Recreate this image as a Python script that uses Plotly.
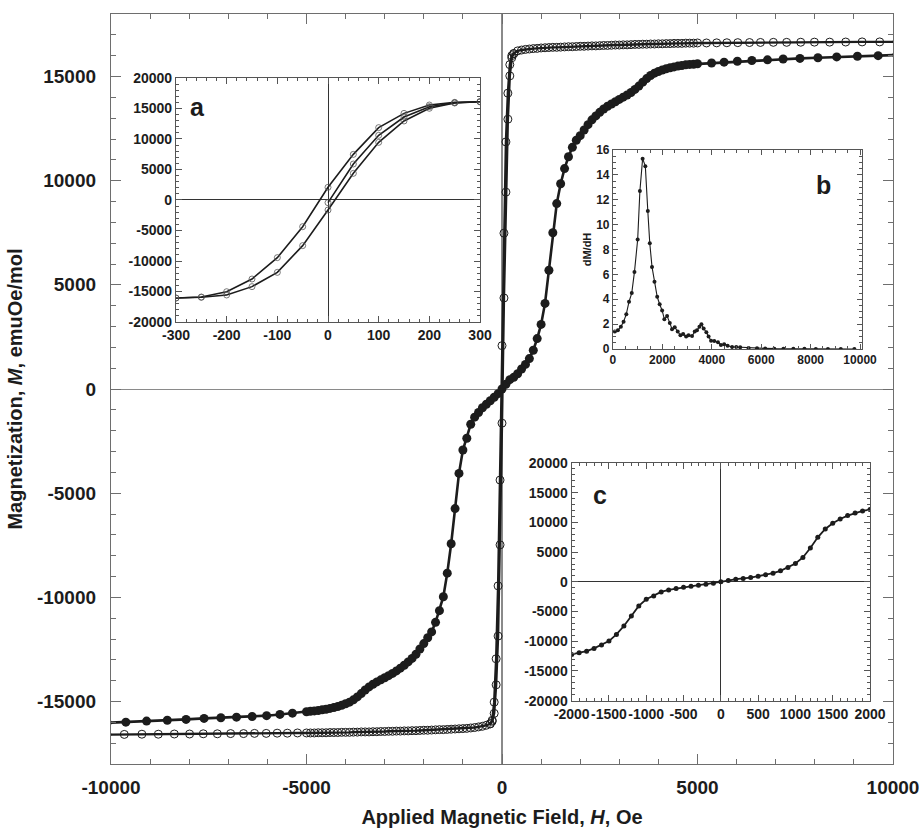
import plotly.graph_objects as go

# ---------------- data ----------------
# Main loop, open circles (sharp switching sample)
OPEN_H_NEG_SPARSE = [-10100, -9660, -9210, -8790, -8380, -7990, -7640, -7280, -6940,
                     -6610, -6330, -6030, -5750, -5490, -5230]
OPEN_M_NEG_SPARSE = [-16590, -16580, -16570, -16570, -16560, -16560, -16550, -16550, -16540,
                     -16540, -16530, -16530, -16520, -16520, -16510]
OPEN_H_POS_SPARSE = [5230, 5490, 5750, 6030, 6330, 6610, 6940, 7280, 7640, 7990,
                     8380, 8790, 9210, 9660, 10100]
OPEN_M_POS_SPARSE = [16610, 16615, 16620, 16625, 16630, 16635, 16640, 16640, 16645, 16650,
                     16650, 16655, 16660, 16660, 16665]

OPEN_H_DENSE = [400, 500, 600, 700, 800, 900,
                1000, 1100, 1200, 1300, 1400, 1500, 1600, 1700, 1800, 1900,
                2000, 2100, 2200, 2300, 2400, 2500, 2600, 2700, 2800, 2900,
                3000, 3100, 3200, 3300, 3400, 3500, 3600, 3700, 3800, 3900,
                4000, 4100, 4200, 4300, 4400, 4500, 4600, 4700, 4800, 4900, 5000]
OPEN_M_DENSE_POS = [16230, 16270, 16300, 16320, 16340, 16350,
                    16370, 16380, 16390, 16400, 16400, 16410, 16420, 16430, 16430, 16440,
                    16450, 16450, 16460, 16470, 16470, 16480, 16490, 16490, 16500, 16510,
                    16510, 16520, 16520, 16530, 16540, 16540, 16550, 16550, 16560, 16560,
                    16570, 16570, 16580, 16580, 16590, 16590, 16590, 16600, 16600, 16600, 16610]
OPEN_M_DENSE_NEG = [-16140, -16190, -16220, -16250, -16270, -16290,
                    -16300, -16310, -16320, -16330, -16340, -16350, -16350, -16360, -16370, -16380,
                    -16380, -16390, -16400, -16400, -16410, -16410, -16420, -16420, -16430, -16430,
                    -16440, -16440, -16450, -16450, -16460, -16460, -16460, -16470, -16470, -16480,
                    -16480, -16480, -16490, -16490, -16490, -16500, -16500, -16500, -16510, -16510, -16510]

# Inset a: low-field loop of the open-circle sample
A_H = [-300, -250, -200, -150, -100, -50, 0, 50, 100, 150, 200, 250, 300]
A_DESC = [-16070, -15900, -15030, -12950, -9450, -4370, 2080, 7480, 11860, 14200, 15570, 16000, 16100]
A_ASC = [-16070, -15950, -15570, -14200, -11860, -7480, -1640, 4370, 9450, 12950, 15030, 15900, 16100]
A_VIRGIN_H = [0, 50, 100, 150, 200, 250, 300]
A_VIRGIN = [-440, 5900, 10600, 13600, 15300, 15950, 16100]

# Filled-circle sample (two-step curve)
FILLED_H_NEG_SPARSE = [-10100, -9620, -9090, -8560, -8080, -7620, -7190, -6790, -6390,
                       -6020, -5680, -5360]
FILLED_M_NEG_SPARSE = [-16020, -15990, -15940, -15900, -15860, -15810, -15780, -15750, -15720,
                       -15680, -15620, -15560]
FILLED_H_POS_SPARSE = [5360, 5680, 6020, 6390, 6790, 7190, 7620, 8080, 8560, 9090, 9620, 10100]
FILLED_M_POS_SPARSE = [15650, 15690, 15730, 15770, 15800, 15840, 15870, 15900, 15940, 15970,
                       16000, 16030]

FILLED_H_DENSE = [100, 200, 300, 400, 500, 600, 700, 800, 900,
                  1000, 1100, 1200, 1300, 1400, 1500, 1600, 1700, 1800, 1900,
                  2000, 2100, 2200, 2300, 2400, 2500, 2600, 2700, 2800, 2900,
                  3000, 3100, 3200, 3300, 3400, 3500, 3600, 3700, 3800, 3900,
                  4000, 4100, 4200, 4300, 4400, 4500, 4600, 4700, 4800, 4900, 5000]
FILLED_M_POS = [225, 450, 560, 730, 960, 1180, 1460, 1860, 2420,
                3100, 4110, 5700, 7500, 8900, 9850, 10580, 11150, 11600, 11940,
                12160, 12430, 12690, 12920, 13110, 13280, 13440, 13570, 13680, 13790,
                13900, 14010, 14110, 14230, 14380, 14540, 14730, 14900, 15050, 15160,
                15240, 15310, 15370, 15420, 15460, 15500, 15530, 15560, 15580, 15590, 15610]
FILLED_M_NEG = [-225, -394, -563, -731, -900, -1126, -1350, -1690, -2366,
                -2930, -4050, -5740, -7430, -8840, -9970, -10640, -11200, -11660, -11940,
                -12220, -12480, -12730, -12930, -13100, -13260, -13400, -13530, -13650, -13760,
                -13860, -13960, -14060, -14170, -14300, -14450, -14620, -14780, -14920, -15030,
                -15110, -15180, -15240, -15290, -15330, -15370, -15400, -15430, -15450, -15470, -15490]

# Inset b: dM/dH of the filled-circle sample
DMDH_H = [80, 200, 320, 430, 540, 650, 760, 870,
          1000, 1090, 1200, 1310, 1410, 1490, 1580, 1680, 1790, 1890, 1990,
          2080, 2190, 2300, 2390, 2500, 2620, 2730, 2840, 2960,
          3060, 3200, 3310, 3400, 3500, 3580, 3670, 3780, 3870, 3970,
          4100, 4250, 4370, 4500, 4640, 4820, 4990,
          5150, 5490, 5830, 6160, 6530, 6900, 7300, 7750, 8210, 8700, 9220, 9770]
DMDH = [1.4, 1.5, 1.8, 2.2, 2.8, 3.8, 4.5, 6.2,
        8.8, 12.7, 15.3, 14.7, 11.1, 8.5, 6.6, 5.4, 4.2, 3.6, 3.1,
        2.4, 2.65, 2.1, 1.6, 1.75, 1.4, 1.1, 1.2, 1.0,
        1.1, 1.05, 1.4, 1.5, 1.8, 2.0, 1.65, 1.35, 1.0, 0.67,
        0.64, 0.54, 0.32, 0.38, 0.27, 0.16, 0.16,
        0.14, 0.08, 0.06, 0.05, 0.03, 0.03, 0.03, 0.02, 0.01, 0.01, 0.0, 0.0]

# Tick labels
MAIN_X_TICKS = [-10000, -5000, 0, 5000, 10000]
MAIN_X_LABELS = ["-10000", "-5000", "0", "5000", "10000"]
MAIN_Y_TICKS = [-15000, -10000, -5000, 0, 5000, 10000, 15000]
MAIN_Y_LABELS = ["-15000", "-10000", "-5000", "0", "5000", "10000", "15000"]
INSET_Y_TICKS = [-20000, -15000, -10000, -5000, 0, 5000, 10000, 15000, 20000]
INSET_Y_LABELS = ["-20000", "-15000", "-10000", "-5000", "0", "5000", "10000", "15000", "20000"]
A_X_TICKS = [-300, -200, -100, 0, 100, 200, 300]
A_X_LABELS = ["-300", "-200", "-100", "0", "100", "200", "300"]
C_X_TICKS = [-2000, -1500, -1000, -500, 0, 500, 1000, 1500, 2000]
C_X_LABELS = ["-2000", "-1500", "-1000", "-500", "0", "500", "1000", "1500", "2000"]
B_X_TICKS = [0, 2000, 4000, 6000, 8000, 10000]
B_X_LABELS = ["0", "2000", "4000", "6000", "8000", "10000"]
B_Y_TICKS = [0, 2, 4, 6, 8, 10, 12, 14, 16]
B_Y_LABELS = ["0", "2", "4", "6", "8", "10", "12", "14", "16"]

# ---------------- assemble series ----------------
open_h = (OPEN_H_NEG_SPARSE + [-h for h in reversed(OPEN_H_DENSE)] + A_H
          + OPEN_H_DENSE + OPEN_H_POS_SPARSE)
open_m = (OPEN_M_NEG_SPARSE + list(reversed(OPEN_M_DENSE_NEG)) + A_ASC
          + OPEN_M_DENSE_POS + OPEN_M_POS_SPARSE)

filled_h = (FILLED_H_NEG_SPARSE + [-h for h in reversed(FILLED_H_DENSE)] + [0]
            + FILLED_H_DENSE + FILLED_H_POS_SPARSE)
filled_m = (FILLED_M_NEG_SPARSE + list(reversed(FILLED_M_NEG)) + [0]
            + FILLED_M_POS + FILLED_M_POS_SPARSE)

c_h = [-h for h in reversed(FILLED_H_DENSE[:20])] + [0] + FILLED_H_DENSE[:20]
c_m = list(reversed(FILLED_M_NEG[:20])) + [0] + FILLED_M_POS[:20]

# ---------------- styling ----------------
FONT = "Liberation Sans, Arial, Helvetica, sans-serif"
INK = "#1c1c1c"
FRAME = "#6e6e6e"

fig = go.Figure()

# main curves
fig.add_trace(go.Scatter(x=filled_h, y=filled_m, mode="lines+markers",
                         line=dict(color=INK, width=2.6),
                         marker=dict(symbol="circle", size=9, color=INK)))
fig.add_trace(go.Scatter(x=open_h, y=open_m, mode="lines+markers",
                         line=dict(color=INK, width=2.4),
                         marker=dict(symbol="circle-open", size=8, color=INK,
                                     line=dict(width=1, color=INK))))
fig.add_trace(go.Scatter(x=A_H, y=A_DESC, mode="lines+markers",
                         line=dict(color=INK, width=2.4),
                         marker=dict(symbol="circle-open", size=8, color=INK,
                                     line=dict(width=1, color=INK))))

# inset a
for ys, xs in ((A_DESC, A_H), (A_ASC, A_H), (A_VIRGIN, A_VIRGIN_H)):
    fig.add_trace(go.Scatter(x=xs, y=ys, xaxis="x2", yaxis="y2", mode="lines+markers",
                             line=dict(color=INK, width=1.6),
                             marker=dict(symbol="circle-open", size=6, color="#555",
                                         line=dict(width=0.8, color="#555"))))

# inset b
fig.add_trace(go.Scatter(x=DMDH_H, y=DMDH, xaxis="x3", yaxis="y3", mode="lines+markers",
                         line=dict(color=INK, width=1.1),
                         marker=dict(symbol="circle", size=4, color=INK)))

# inset c
fig.add_trace(go.Scatter(x=c_h, y=c_m, xaxis="x4", yaxis="y4", mode="lines+markers",
                         line=dict(color=INK, width=1.8),
                         marker=dict(symbol="circle", size=5, color=INK)))


def axis(rng, tickvals, ticktext, minor_dtick, size, ticklen, minorlen, domain=None,
         anchor=None, zero=True, zerocolor="#888", zerowidth=1.2, linecolor=FRAME,
         linewidth=1.3, standoff=None):
    d = dict(range=rng, tickmode="array", tickvals=tickvals, ticktext=ticktext,
             ticks="inside", ticklen=ticklen, tickwidth=1, tickcolor=linecolor,
             minor=dict(tickmode="linear", tick0=0, dtick=minor_dtick, ticks="inside",
                        ticklen=minorlen, tickwidth=1, tickcolor=linecolor),
             showline=True, linecolor=linecolor, linewidth=linewidth, mirror="ticks",
             showgrid=False, zeroline=zero, zerolinecolor=zerocolor, zerolinewidth=zerowidth,
             tickfont=dict(family=FONT, size=size, color=INK, weight=700),
             tickangle=0, automargin=False, fixedrange=True)
    if domain is not None:
        d["domain"] = domain
    if anchor is not None:
        d["anchor"] = anchor
    if standoff is not None:
        d["ticklabelstandoff"] = standoff
    return d


layout_xaxis = axis([-10000, 10000], MAIN_X_TICKS, MAIN_X_LABELS, 1000, 19, 10, 5,
                    domain=[0, 1], anchor="y", zerocolor="#8a8a8a", zerowidth=1.6, standoff=6)
layout_xaxis["title"] = dict(text="Applied Magnetic Field, <i>H</i>, Oe",
                             font=dict(family=FONT, size=20, color=INK, weight=700), standoff=13)
layout_yaxis = axis([-18000, 18000], MAIN_Y_TICKS, MAIN_Y_LABELS, 1000, 19, 10, 5,
                    domain=[0, 1], anchor="x", zerocolor="#8a8a8a", zerowidth=1.2, standoff=10)
layout_yaxis["title"] = dict(text="Magnetization, <i>M</i>, emuOe/mol",
                             font=dict(family=FONT, size=20, color=INK, weight=700), standoff=8)

fig.update_layout(
    width=921, height=834,
    margin=dict(l=111, r=28, t=14, b=70),
    paper_bgcolor="white", plot_bgcolor="white",
    showlegend=False,
    xaxis=layout_xaxis,
    yaxis=layout_yaxis,
    xaxis2=axis([-300, 300], A_X_TICKS, A_X_LABELS, 20, 14, 6, 3,
                domain=[0.0831, 0.4719], anchor="y2", zerocolor="#333", zerowidth=1,
                linecolor="#555", linewidth=1.2),
    yaxis2=axis([-20000, 20000], INSET_Y_TICKS, INSET_Y_LABELS, 1000, 14, 6, 3,
                domain=[0.5893, 0.9147], anchor="x2", zerocolor="#333", zerowidth=1,
                linecolor="#555", linewidth=1.2),
    xaxis3=axis([0, 10080], B_X_TICKS, B_X_LABELS, 500, 12, 5, 3,
                domain=[0.6419, 0.9604], anchor="y3", zero=False,
                linecolor="#555", linewidth=1.1),
    yaxis3=axis([0, 16], B_Y_TICKS, B_Y_LABELS, 0.5, 12, 5, 3,
                domain=[0.5533, 0.8187], anchor="x3", zero=False,
                linecolor="#555", linewidth=1.1),
    xaxis4=axis([-2000, 2000], C_X_TICKS, C_X_LABELS, 100, 14, 6, 3,
                domain=[0.5891, 0.9706], anchor="y4", zerocolor="#333", zerowidth=1,
                linecolor="#555", linewidth=1.2),
    yaxis4=axis([-20000, 20000], INSET_Y_TICKS, INSET_Y_LABELS, 1000, 14, 6, 3,
                domain=[0.0844, 0.4013], anchor="x4", zerocolor="#333", zerowidth=1,
                linecolor="#555", linewidth=1.2),
)
fig.layout.yaxis3.title = dict(text="dM/dH", font=dict(family=FONT, size=11, color=INK, weight=700),
                               standoff=2)

for txt, xr, yr, xx, yy in (("a", "x2 domain", "y2 domain", 0.072, 0.881),
                            ("b", "x3 domain", "y3 domain", 0.847, 0.824),
                            ("c", "x4 domain", "y4 domain", 0.095, 0.865)):
    fig.add_annotation(text=txt, xref=xr, yref=yr, x=xx, y=yy, showarrow=False,
                       xanchor="center", yanchor="middle",
                       font=dict(family=FONT, size=25, color=INK, weight=700))

# remove the browser's default 8px body margin so the figure sits at the page origin
fig.write_html("out.html", config={"displayModeBar": False},
               post_script="document.body.style.margin='0';document.body.style.overflow='hidden';")
